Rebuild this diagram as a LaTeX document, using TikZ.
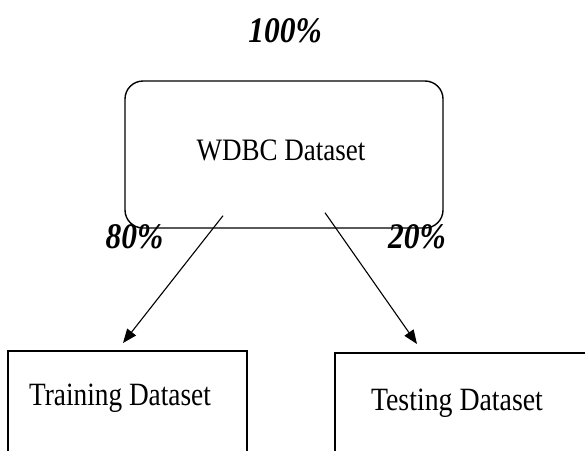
\documentclass[tikz,border=0pt]{standalone}
\usepackage{fontspec}
\usepackage{graphicx}
\setmainfont{Liberation Serif}
\usetikzlibrary{arrows.meta,calc}
% tall lettering: stretch a text horizontally and vertically
\newcommand{\tallword}[3]{\scalebox{#1}[#2]{#3}}
\begin{document}
\begin{tikzpicture}[x=1pt,y=-1pt,
  txt/.style={font=\fontsize{26}{30}\selectfont, inner sep=0pt, anchor=base},
  pct/.style={font=\fontsize{30}{34}\selectfont\bfseries\itshape, inner sep=0pt, anchor=base},
  roundbox/.style={draw, line width=1.4pt, rounded corners=18pt, inner sep=0pt},
  plainbox/.style={draw, line width=1.5pt, inner sep=0pt},
  flow/.style={draw, line width=1.1pt, -{Triangle[length=14pt,width=11pt]}}]
\useasboundingbox (0,0) rectangle (585,450);
\clip (0,0) rectangle (585,450);

% source data set
\node[roundbox, minimum width=318pt, minimum height=147pt] (w) at (284,154.5) {};
\node[txt] (wt) at (281,160) {\tallword{1.04}{1.2}{WDBC Dataset}};
\node[pct] (p100) at (285,42) {\tallword{1.05}{1.2}{100\%}};

% the two parts of the split
\node[plainbox, minimum width=239pt, minimum height=140pt, anchor=north west] (train) at (7,350) {};
\node[txt] (trt) at (120,405) {\tallword{1.05}{1.25}{Training Dataset}};
\node[plainbox, minimum width=270pt, minimum height=140pt, anchor=north west] (test) at (334,352) {};
\node[txt] (tet) at (457,410) {\tallword{1.07}{1.25}{Testing Dataset}};

% split percentages
\node[pct] (p80) at (134.5,248) {\tallword{1.05}{1.2}{80\%}};
\node[pct] (p20) at (417,248) {\tallword{1.05}{1.2}{20\%}};

% arrows from inside the source box to the parts
\coordinate (s1) at ($(w.south)+(-61,-13)$);
\coordinate (s2) at ($(w.south)+(41,-16)$);
\coordinate (e1) at ($(train.north west)+(116,-7)$);
\coordinate (e2) at ($(test.north west)+(83,-8)$);
\draw[flow] (s1) -- (e1);
\draw[flow] (s2) -- (e2);
\end{tikzpicture}
\end{document}
